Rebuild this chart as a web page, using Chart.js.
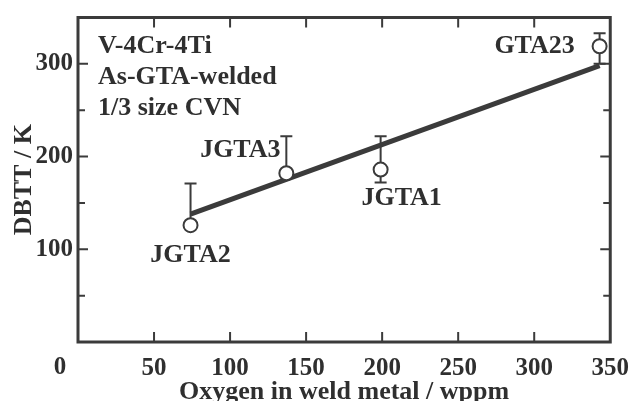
<!DOCTYPE html>
<html lang="en">
  <head>
    <meta charset="UTF-8" />
    <title>DBTT vs oxygen</title>
    <script src="https://cdn.jsdelivr.net/npm/chart.js"></script>
    <style>
      html, body { margin: 0; padding: 0; background: #fff; }
      #wrap { width: 643px; height: 401px; }
    </style>
  </head>
  <body>
    <div id="wrap">
      <canvas id="chart" width="643" height="401"></canvas>
    </div>
    <script>
      // values
      const samples = ["JGTA2", "JGTA3", "JGTA1", "GTA23"];
      const oxygen = [74, 137, 199, 343];
      const dbtt = [126, 182, 186, 319];
      const dbttUpper = [171, 222, 222, 333];
      const dbttLower = [null, null, 172, 300];
      const fitX = [74, 343];
      const fitY = [138, 298];
      const noteLines = ["V-4Cr-4Ti", "As-GTA-welded", "1/3 size CVN"];
      const xTitle = "Oxygen in weld metal / wppm";
      const yTitle = "DBTT / K";

      const ink = "#3b3b3b";
      const serif = '"Liberation Serif", "Times New Roman", serif';

      // label offsets from each marker (px)
      const labelOffsets = {
        JGTA2: [0, 30],
        JGTA3: [-46, -23],
        JGTA1: [21, 29],
        GTA23: [-65, 0],
      };

      const errorBars = {
        id: "errorBars",
        beforeDatasetsDraw(chart) {
          const { ctx, scales: { x, y } } = chart;
          ctx.save();
          ctx.strokeStyle = ink;
          ctx.lineWidth = 2;
          oxygen.forEach((ox, i) => {
            const px = x.getPixelForValue(ox);
            const py = y.getPixelForValue(dbtt[i]);
            [dbttUpper[i], dbttLower[i]].forEach((v) => {
              if (v == null) return;
              const ey = y.getPixelForValue(v);
              ctx.beginPath();
              ctx.moveTo(px, py);
              ctx.lineTo(px, ey);
              ctx.moveTo(px - 6, ey);
              ctx.lineTo(px + 6, ey);
              ctx.stroke();
            });
          });
          ctx.restore();
        },
      };

      const frame = {
        id: "frame",
        afterDraw(chart) {
          const { ctx, chartArea: a, scales: { x, y } } = chart;
          ctx.save();
          ctx.strokeStyle = ink;
          ctx.lineWidth = 3;
          ctx.strokeRect(a.left, a.top, a.right - a.left, a.bottom - a.top);
          ctx.lineWidth = 2;
          ctx.beginPath();
          x.ticks.forEach((t) => {
            if (t.value <= 0 || t.value >= 350) return;
            const px = x.getPixelForValue(t.value);
            ctx.moveTo(px, a.bottom);
            ctx.lineTo(px, a.bottom - 10);
            ctx.moveTo(px, a.top);
            ctx.lineTo(px, a.top + 10);
          });
          y.ticks.forEach((t) => {
            if (t.value <= 0 || t.value >= 350) return;
            const py = y.getPixelForValue(t.value);
            const len = t.value % 100 === 0 ? 10 : 7;
            ctx.moveTo(a.left, py);
            ctx.lineTo(a.left + len, py);
            ctx.moveTo(a.right, py);
            ctx.lineTo(a.right - len, py);
          });
          ctx.stroke();

          // text
          ctx.fillStyle = "#2f2f2f";
          ctx.font = "bold 26px " + serif;
          ctx.textAlign = "center";
          ctx.textBaseline = "middle";
          samples.forEach((s, i) => {
            const off = labelOffsets[s];
            ctx.fillText(
              s,
              x.getPixelForValue(oxygen[i]) + off[0],
              y.getPixelForValue(dbtt[i]) + off[1]
            );
          });
          ctx.textAlign = "left";
          ctx.textBaseline = "alphabetic";
          noteLines.forEach((line, i) => {
            ctx.fillText(line, a.left + 20, a.top + 35 + i * 31);
          });
          // shared origin label
          ctx.font = "bold 25px " + serif;
          ctx.textAlign = "center";
          ctx.textBaseline = "middle";
          ctx.fillText("0", a.left - 18, a.bottom + 26);
          ctx.restore();
        },
      };

      const tickFont = { family: serif, weight: "bold", size: 25, lineHeight: 1 };
      const titleFont = { family: serif, weight: "bold", size: 26, lineHeight: 1 };

      const config = {
        type: "scatter",
        data: {
          datasets: [
            {
              label: "DBTT",
              data: oxygen.map((ox, i) => ({ x: ox, y: dbtt[i] })),
              pointRadius: 7,
              pointBorderWidth: 2,
              pointBackgroundColor: "#fff",
              pointBorderColor: ink,
              order: 0,
            },
            {
              label: "fit",
              data: fitX.map((fx, i) => ({ x: fx, y: fitY[i] })),
              showLine: true,
              borderColor: ink,
              borderWidth: 5,
              pointRadius: 0,
              order: 1,
            },
          ],
        },
        plugins: [errorBars, frame],
        options: {
          responsive: false,
          animation: false,
          layout: { padding: { top: 14, right: 21, left: 0, bottom: 0 } },
          plugins: { legend: { display: false }, tooltip: { enabled: false } },
          scales: {
            x: {
              min: 0,
              max: 350,
              grid: { display: false, drawTicks: false },
              border: { display: false },
              ticks: {
                stepSize: 50,
                color: "#2f2f2f",
                font: tickFont,
                padding: 14,
                maxRotation: 0,
                callback: (v) => (v === 0 ? "" : v),
              },
              title: {
                display: true,
                text: xTitle,
                color: "#2f2f2f",
                font: titleFont,
                padding: { top: 0, bottom: -4 },
              },
              afterFit: (s) => { s.height = 59; },
            },
            y: {
              min: 0,
              max: 350,
              grid: { display: false, drawTicks: false },
              border: { display: false },
              ticks: {
                stepSize: 50,
                color: "#2f2f2f",
                font: tickFont,
                padding: 5,
                callback: (v) => (v > 0 && v % 100 === 0 ? v : ""),
              },
              title: {
                display: true,
                text: yTitle,
                color: "#2f2f2f",
                font: titleFont,
                padding: { top: 11, bottom: 0 },
              },
              afterFit: (s) => { s.width = 78; },
            },
          },
        },
      };

      const myChart = new Chart(document.getElementById("chart"), config);
    </script>
  </body>
</html>
